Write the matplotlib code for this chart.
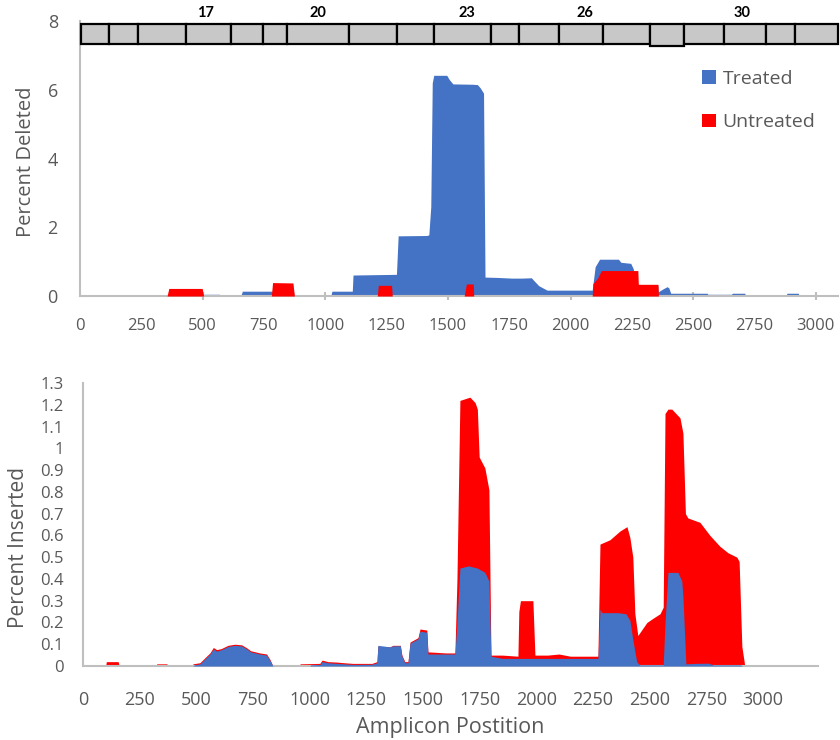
import matplotlib
matplotlib.use("Agg")
import matplotlib.pyplot as plt
from matplotlib.patches import Rectangle, Patch
import numpy as np

plt.rcParams['font.family'] = ['Open Sans', 'DejaVu Sans']

BLUE = '#4472C4'
RED = '#FF0000'
GRAY_TXT = '#595959'
SPINE = '#BFBFBF'

# ---------------- Data: percent deleted (top) ----------------
del_treated_x = [0, 495, 502, 568, 572, 655, 662, 783, 870, 874, 1022, 1027, 1110, 1113, 1200, 1290,
                 1297, 1414, 1422, 1430, 1436, 1442, 1495, 1505, 1520, 1600, 1620, 1632, 1645,
                 1651, 1700, 1760, 1800, 1840, 1850, 1870, 1904, 2088, 2100, 2118, 2195, 2205, 2245,
                 2255, 2270, 2356, 2357, 2375, 2393, 2400, 2408, 2556, 2560, 2655, 2660, 2710, 2713,
                 2878, 2882, 2928, 2932, 3000]
del_treated_y = [0, 0, 0.05, 0.05, 0, 0, 0.14, 0.14, 0.14, 0, 0, 0.14, 0.14, 0.61, 0.62, 0.63,
                 1.75, 1.76, 1.78, 2.6, 6.2, 6.42, 6.42, 6.3, 6.17, 6.16, 6.15, 6.05, 5.9,
                 0.55, 0.54, 0.52, 0.52, 0.53, 0.45, 0.3, 0.17, 0.17, 0.85, 1.07, 1.07, 0.98, 0.95,
                 0.8, 0.34, 0.3, 0.12, 0.2, 0.27, 0.24, 0.08, 0.08, 0.05, 0.05, 0.08, 0.08, 0,
                 0, 0.08, 0.08, 0, 0]

del_untreated_x = [0, 355, 362, 498, 504, 780, 785, 868, 874, 1212, 1216, 1270, 1273, 1566, 1575,
                   1603, 1605, 2088, 2091, 2110, 2125, 2274, 2276, 2356, 2358, 3000]
del_untreated_y = [0, 0, 0.22, 0.22, 0, 0, 0.39, 0.38, 0, 0, 0.31, 0.31, 0, 0, 0.35,
                   0.35, 0, 0, 0.36, 0.52, 0.74, 0.74, 0.34, 0.34, 0, 0]

# ---------------- Data: percent inserted (bottom) ----------------
ins_untreated_x = [0, 100, 103, 155, 160, 190, 194, 198, 320, 326, 370, 374, 440, 443, 470, 473,
                   482, 485, 516, 540, 560, 575, 590, 610, 640, 670, 700, 720, 740, 780, 810, 825, 838,
                   875, 878, 925, 928, 955, 958, 1045, 1055, 1080, 1120, 1150, 1190, 1275, 1297, 1301,
                   1354, 1368, 1400, 1407, 1420, 1434, 1443, 1478, 1487, 1517, 1522, 1600, 1641, 1650,
                   1663, 1707, 1730, 1740, 1748, 1773, 1791, 1800, 1850, 1919, 1923, 1930, 1985, 1994,
                   2050, 2100, 2150, 2272, 2281, 2325, 2369, 2400, 2413, 2426, 2435, 2448, 2488, 2516,
                   2546, 2560, 2568, 2581, 2598, 2634, 2647, 2658, 2669, 2722, 2766, 2810, 2846, 2885,
                   2895, 2907, 2920, 2975, 2978, 3040, 3043]
ins_untreated_y = [0, 0, 0.02, 0.02, 0, 0, 0.006, 0, 0, 0.01, 0.01, 0, 0, 0.006, 0.006, 0,
                   0, 0.01, 0.015, 0.04, 0.06, 0.085, 0.075, 0.08, 0.095, 0.1, 0.097, 0.085, 0.07, 0.06, 0.055, 0.03, 0,
                   0, 0.006, 0.006, 0, 0, 0.01, 0.012, 0.027, 0.02, 0.018, 0.015, 0.012, 0.012, 0.02, 0.09,
                   0.088, 0.095, 0.095, 0.05, 0.02, 0.02, 0.11, 0.13, 0.17, 0.165, 0.065, 0.06, 0.06, 0.4,
                   1.22, 1.235, 1.21, 1.18, 0.96, 0.91, 0.81, 0.05, 0.05, 0.045, 0.25, 0.3, 0.3, 0.05,
                   0.05, 0.055, 0.045, 0.045, 0.56, 0.58, 0.62, 0.64, 0.59, 0.5, 0.24, 0.14, 0.2, 0.22,
                   0.24, 0.27, 1.16, 1.18, 1.18, 1.14, 1.07, 0.70, 0.68, 0.66, 0.60, 0.55, 0.52, 0.5,
                   0.48, 0.09, 0, 0, 0.006, 0.006, 0]

ins_treated_x = [0, 485, 490, 516, 540, 560, 575, 590, 610, 640, 670, 700, 720, 740, 780, 810, 825, 838,
                 1000, 1005, 1045, 1055, 1080, 1150, 1190, 1275, 1297, 1301, 1354, 1368, 1400, 1407,
                 1420, 1434, 1443, 1478, 1487, 1517, 1522, 1641, 1650, 1663, 1700, 1740, 1773, 1791,
                 1800, 1850, 2272, 2281, 2290, 2360, 2395, 2413, 2426, 2443, 2455, 2560, 2568, 2581,
                 2625, 2642, 2647, 2660, 2700, 2760, 2780, 2900, 2910]
ins_treated_y = [0, 0, 0.005, 0.01, 0.035, 0.055, 0.078, 0.068, 0.075, 0.09, 0.095, 0.092, 0.08, 0.065, 0.055, 0.05, 0.025, 0,
                 0, 0.005, 0.007, 0.02, 0.015, 0.01, 0.007, 0.008, 0.015, 0.095, 0.088, 0.093, 0.093, 0.045,
                 0.015, 0.015, 0.105, 0.125, 0.16, 0.155, 0.055, 0.055, 0.2, 0.45, 0.46, 0.45, 0.43, 0.39,
                 0.045, 0.035, 0.035, 0.26, 0.245, 0.245, 0.24, 0.21, 0.12, 0.02, 0.005, 0.005, 0.2, 0.43,
                 0.43, 0.39, 0.32, 0.01, 0.012, 0.013, 0.005, 0.005, 0]

# ---------------- Exon map ----------------
exon_starts = [4, 118, 236, 432, 615, 746, 844, 1096, 1292, 1443, 1675, 1789, 1952, 2132, 2323, 2462, 2625, 2796, 2914]
exon_ends = [118, 236, 432, 615, 746, 844, 1096, 1292, 1443, 1675, 1789, 1952, 2132, 2323, 2462, 2625, 2796, 2914, 3090]
exon_numbers = list(range(14, 33))
exon_labeled = [17, 20, 23, 26, 30]
exon_label_pos = [510, 970, 1577, 2058, 2698]

del_yticks = [0, 2, 4, 6, 8]
ins_yticks = [0, 0.1, 0.2, 0.3, 0.4, 0.5, 0.6, 0.7, 0.8, 0.9, 1, 1.1, 1.2, 1.3]
xticks = list(range(0, 3001, 250))

W, H = 840, 740
fig = plt.figure(figsize=(8.4, 7.4), dpi=100)

def fx(px):
    return px / W

def fy(py):
    return 1 - py / H

# ---------- Top axes ----------
ax1 = fig.add_axes([fx(80), fy(296), fx(838) - fx(80), fy(21) - fy(296)])
ax1.fill_between(del_treated_x, del_treated_y, 0, color=BLUE, lw=0, zorder=2)
ax1.fill_between(del_untreated_x, del_untreated_y, 0, color=RED, lw=0, zorder=3)
ax1.set_xlim(0, 3090)
ax1.set_ylim(0, 8)

for s, e, n in zip(exon_starts, exon_ends, exon_numbers):
    if n == 28:
        y0, y1 = 7.26, 7.91
    else:
        y0, y1 = 7.33, 7.91
    ax1.add_patch(Rectangle((s, y0), e - s, y1 - y0, facecolor='#C8C8C8', edgecolor='black',
                            lw=1.6, zorder=5, clip_on=False))
for lab, pos in zip(exon_labeled, exon_label_pos):
    ax1.text(pos, 8.02, str(lab), ha='center', va='bottom', fontsize=10.5, fontweight='bold',
             family=['Lato', 'DejaVu Sans'], color='black', zorder=6, clip_on=False)

ax1.set_xticks(xticks)
ax1.set_xticklabels([str(t) for t in xticks])
ax1.set_xticks(list(range(500, 3001, 500)), minor=True)
ax1.xaxis.remove_overlapping_locs = False
ax1.tick_params(axis='x', which='major', length=0, pad=16, labelsize=12, labelcolor=GRAY_TXT)
ax1.tick_params(axis='x', which='minor', length=6, direction='inout', color=SPINE, width=1.5)
ax1.set_yticks(del_yticks)
ax1.set_yticklabels([str(t) for t in del_yticks])
ax1.tick_params(axis='y', length=0, pad=16, labelsize=13, labelcolor=GRAY_TXT)
for side in ['top', 'right']:
    ax1.spines[side].set_visible(False)
for side in ['left', 'bottom']:
    ax1.spines[side].set_color(SPINE)
    ax1.spines[side].set_linewidth(1.5)

fig.text(fx(26), fy(162), 'Percent Deleted', rotation=90, ha='center', va='center',
         fontsize=14.5, color=GRAY_TXT)

ax1.legend(handles=[Patch(facecolor=BLUE, edgecolor='none', label='Treated'),
                    Patch(facecolor=RED, edgecolor='none', label='Untreated')],
           loc='upper left', bbox_to_anchor=(fx(702), fy(70)), bbox_transform=fig.transFigure,
           frameon=False, fontsize=14, handlelength=0.7, handleheight=0.7,
           handletextpad=0.35, labelspacing=1.3, borderpad=0, borderaxespad=0,
           labelcolor=GRAY_TXT)

# ---------- Bottom axes ----------
ax2 = fig.add_axes([fx(83), fy(666), fx(818) - fx(83), fy(383) - fy(666)])
ax2.fill_between(ins_untreated_x, ins_untreated_y, 0, color=RED, lw=0, zorder=2)
ax2.fill_between(ins_treated_x, ins_treated_y, 0, color=BLUE, lw=0, zorder=3)
ax2.set_xlim(0, 3243)
ax2.set_ylim(0, 1.3)
ax2.set_xticks(xticks)
ax2.set_xticklabels([str(t) for t in xticks])
ax2.tick_params(axis='x', length=0, pad=18, labelsize=13, labelcolor=GRAY_TXT)
ax2.set_yticks(ins_yticks)
ax2.set_yticklabels([('%g' % t) for t in ins_yticks])
ax2.tick_params(axis='y', length=0, pad=14, labelsize=12, labelcolor=GRAY_TXT)
for side in ['top', 'right']:
    ax2.spines[side].set_visible(False)
for side in ['left', 'bottom']:
    ax2.spines[side].set_color(SPINE)
    ax2.spines[side].set_linewidth(1.5)

fig.text(fx(19), fy(547), 'Percent Inserted', rotation=90, ha='center', va='center',
         fontsize=15, color=GRAY_TXT)
fig.text(fx(450), fy(727), 'Amplicon Postition', ha='center', va='center',
         fontsize=15.5, color=GRAY_TXT)

fig.savefig('out.png', dpi=100)
